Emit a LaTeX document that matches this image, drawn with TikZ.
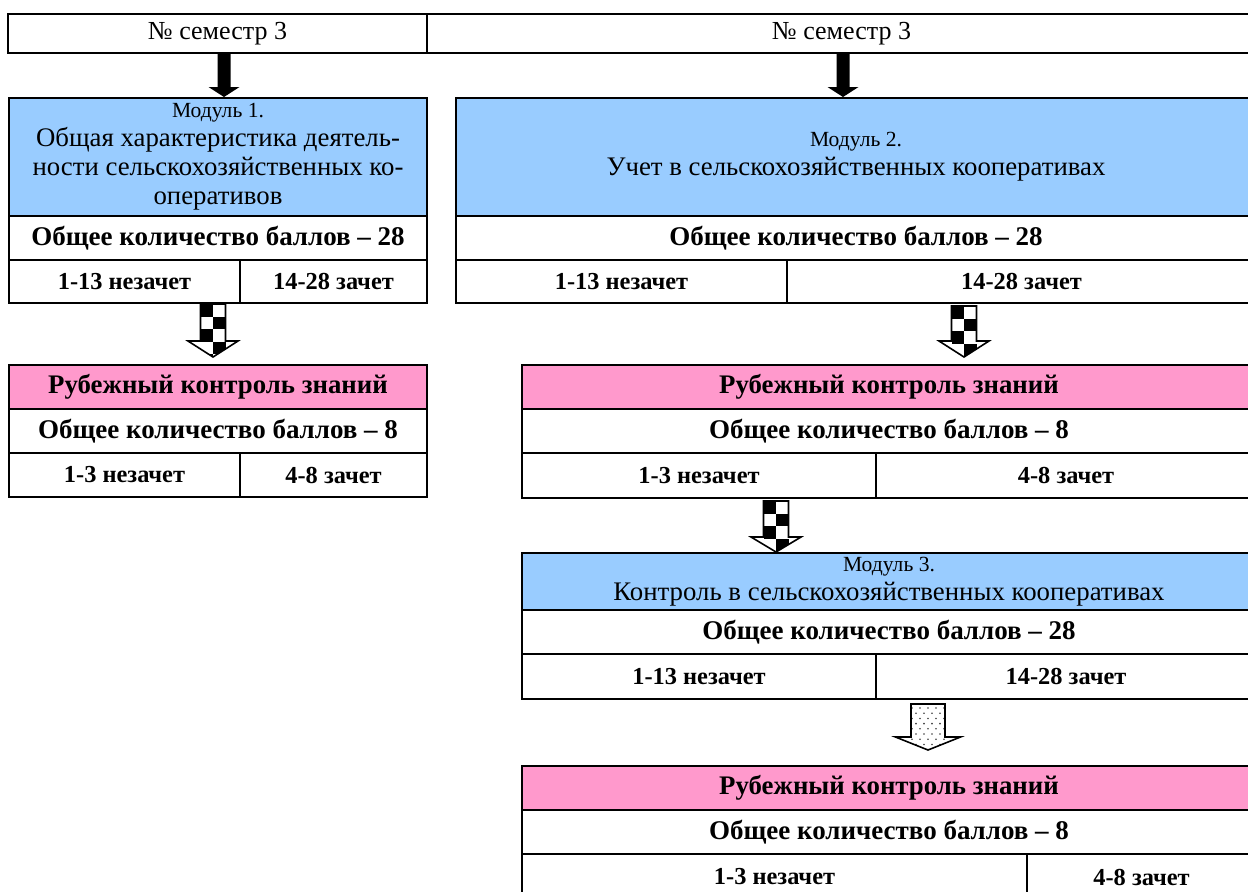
\documentclass[tikz,border=0pt]{standalone}
\usepackage{fontspec}
\setmainfont{Liberation Serif}
\usetikzlibrary{fit,calc}

\definecolor{modblue}{RGB}{153,204,255}
\definecolor{ctrlpink}{RGB}{255,153,204}

\tikzset{
  cell/.style={draw, line width=1pt, inner sep=0pt, align=center},
  semcell/.style={cell, font=\fontsize{13}{15}\selectfont},
  modcell/.style={cell, fill=modblue, font=\fontsize{13.4}{14.5}\selectfont},
  sumcell/.style={cell, font=\bfseries\fontsize{13.5}{15}\selectfont},
  gradecell/.style={cell, font=\bfseries\fontsize{12.2}{14}\selectfont},
  ctrlcell/.style={cell, fill=ctrlpink, font=\bfseries\fontsize{13.4}{15}\selectfont},
}

\newcommand{\modtitle}[1]{{\fontsize{10.8}{14.5}\selectfont #1}}

% a framed cell over two corners, its text set in the middle
\newcommand{\cellbox}[4]{%
  \node[#1, fit={#2}] (#3) {};
  \node[#1, draw=none, fill=none] (#3-text) at (#3.center) {#4};
}

% outline of a block arrow: from, to, half shaft, half head, head length
\newcommand{\arrowpath}[5]{let \p1=(#1), \p2=(#2) in (\x1-#3,\y1) -- (\x1+#3,\y1) -- (\x1+#3,\y2+#5) -- (\x1+#4,\y2+#5) -- (\x1,\y2) -- (\x1-#4,\y2+#5) -- (\x1-#3,\y2+#5) -- cycle}

\newcommand{\solidarrow}[2]{\fill \arrowpath{#1}{#2}{3.25pt}{7.75pt}{5pt};}

\newcommand{\checkarrow}[3]{%
  \fill[white] \arrowpath{#1}{#2}{6.25pt}{12.5pt}{#3};
  \begin{scope}
    \clip \arrowpath{#1}{#2}{6.25pt}{12.5pt}{#3};
    \foreach \r in {0,...,5}
      \foreach \c in {0,1} {
        \pgfmathtruncatemacro\cellodd{mod(\r+\c,2)}
        \ifnum\cellodd=0
          \fill let \p1=(#1) in (\x1-6.25pt+\c*6.25pt,\y1-\r*6.25pt) rectangle ++(6.25pt,-6.25pt);
        \fi
      }
  \end{scope}
  \draw[line width=0.8pt] \arrowpath{#1}{#2}{6.25pt}{12.5pt}{#3};
}

\newcommand{\dotarrow}[3]{%
  \fill[white] \arrowpath{#1}{#2}{8.5pt}{16.25pt}{#3};
  \begin{scope}
    \clip \arrowpath{#1}{#2}{8.5pt}{16.25pt}{#3};
    \clip let \p1=(#1), \p2=(#2) in (\x1-8.5pt,\y1) rectangle (\x1+8.5pt,\y2);
    \foreach \r in {0,...,9}
      \foreach \c in {-2,...,2} {
        \pgfmathsetmacro\dotshift{mod(\r,2)*2}
        \fill[black!75] let \p1=(#1) in (\x1+\c*4pt+\dotshift pt,\y1-2pt-\r*2.6pt) circle (0.45pt);
      }
  \end{scope}
  \draw[line width=0.8pt] \arrowpath{#1}{#2}{8.5pt}{16.25pt}{#3};
}

\begin{document}
\begin{tikzpicture}[x=0.5pt, y=-0.5pt]
  \useasboundingbox (0,0) rectangle (1248,891);

  % semester header
  \cellbox{semcell}{(8,14) (427,53)}{sem1}{№ семестр 3}
  \cellbox{semcell}{(427,14) (1256,53)}{sem2}{№ семестр 3}

  % module 1
  \cellbox{modcell}{(9,98) (427,216)}{mod1}{\modtitle{Модуль 1.}\\Общая характеристика деятель-\\ности сельскохозяйственных ко-\\оперативов}
  \cellbox{sumcell}{(9,216) (427,260)}{sum1}{Общее количество баллов – 28}
  \cellbox{gradecell}{(9,260) (240,303)}{grade1a}{1-13 незачет}
  \cellbox{gradecell}{(240,260) (427,303)}{grade1b}{14-28 зачет}

  % module 2
  \cellbox{modcell}{(456,98) (1256,216)}{mod2}{\modtitle{Модуль 2.}\\Учет в сельскохозяйственных кооперативах}
  \cellbox{sumcell}{(456,216) (1256,260)}{sum2}{Общее количество баллов – 28}
  \cellbox{gradecell}{(456,260) (787,303)}{grade2a}{1-13 незачет}
  \cellbox{gradecell}{(787,260) (1256,303)}{grade2b}{14-28 зачет}

  % first control, left
  \cellbox{ctrlcell}{(9,365) (427,409)}{ctrl1}{Рубежный контроль знаний}
  \cellbox{sumcell}{(9,409) (427,453)}{csum1}{Общее количество баллов – 8}
  \cellbox{gradecell}{(9,453) (240,497)}{cgrade1a}{1-3 незачет}
  \cellbox{gradecell}{(240,453) (427,497)}{cgrade1b}{4-8 зачет}

  % first control, right
  \cellbox{ctrlcell}{(522,365) (1256,409)}{ctrl2}{Рубежный контроль знаний}
  \cellbox{sumcell}{(522,409) (1256,453)}{csum2}{Общее количество баллов – 8}
  \cellbox{gradecell}{(522,453) (876,498)}{cgrade2a}{1-3 незачет}
  \cellbox{gradecell}{(876,453) (1256,498)}{cgrade2b}{4-8 зачет}

  % module 3
  \cellbox{modcell}{(522,553) (1256,610)}{mod3}{\modtitle{Модуль 3.}\\Контроль в сельскохозяйственных кооперативах}
  \cellbox{sumcell}{(522,610) (1256,654)}{sum3}{Общее количество баллов – 28}
  \cellbox{gradecell}{(522,654) (876,699)}{grade3a}{1-13 незачет}
  \cellbox{gradecell}{(876,654) (1256,699)}{grade3b}{14-28 зачет}

  % second control
  \cellbox{ctrlcell}{(522,766) (1256,810)}{ctrl3}{Рубежный контроль знаний}
  \cellbox{sumcell}{(522,810) (1256,854)}{csum3}{Общее количество баллов – 8}
  \cellbox{gradecell}{(522,854) (1027,900)}{cgrade3a}{1-3 незачет}
  \cellbox{gradecell}{(1027,854) (1256,900)}{cgrade3b}{4-8 зачет}

  % arrows
  \solidarrow{$(sem1.south)+(6.5,0)$}{mod1.north}
  \solidarrow{$(sem2.south)+(1.5,0)$}{mod2.north}
  \checkarrow{$(grade1a.south east)+(-28,0)$}{$(ctrl1.north)+(0,-7)$}{8pt}
  \checkarrow{$(grade2b.south)+(-57.5,2)$}{$(ctrl2.north)+(0,-7)$}{8pt}
  \checkarrow{$(cgrade2a.south)+(77,2)$}{mod3.north}{7.5pt}
  \dotarrow{$(grade3a.south east)+(51,4)$}{$(ctrl3.north)+(0,-15)$}{6.5pt}
\end{tikzpicture}
\end{document}
